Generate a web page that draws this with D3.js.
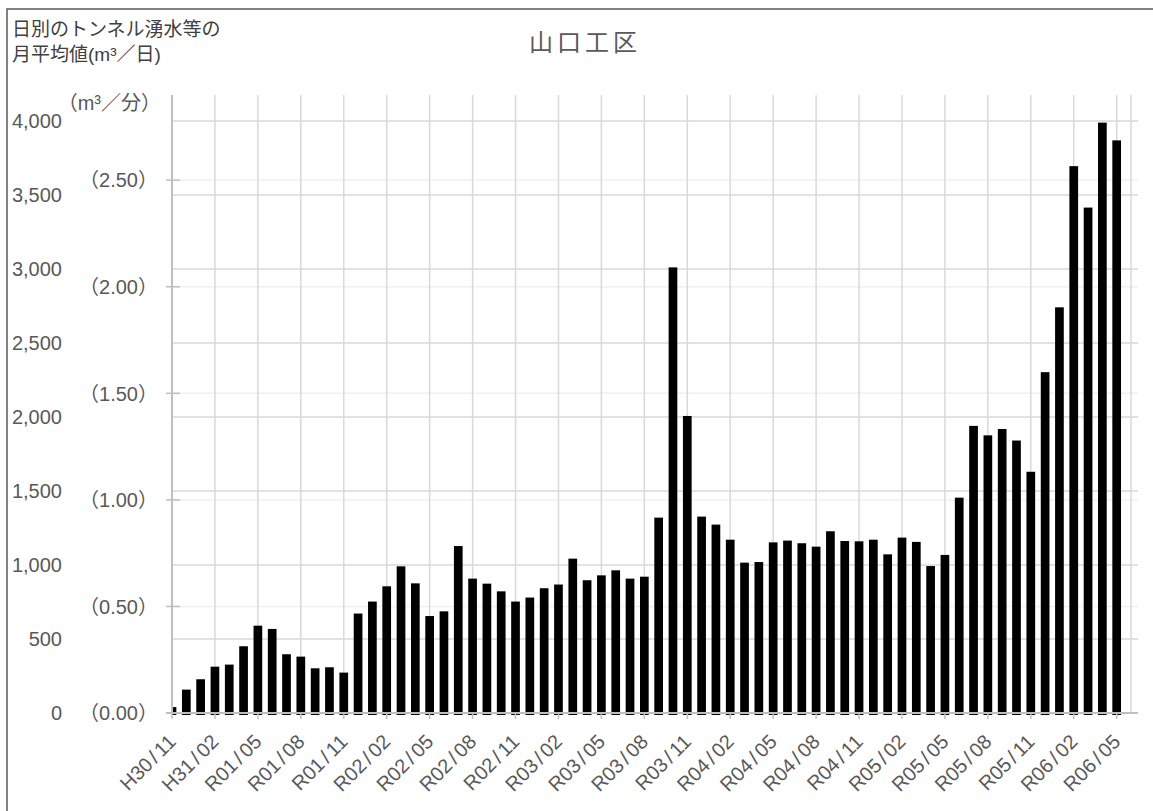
<!DOCTYPE html>
<html>
<head>
<meta charset="utf-8">
<script src="https://cdn.jsdelivr.net/npm/d3@7"></script>
<style>
  body { margin: 0; background: #fff; }
  svg { display: block; }
  text { font-family: "Liberation Sans", "Noto Sans CJK JP", sans-serif; }
</style>
</head>
<body>
<svg width="1153" height="811"></svg>
<script>
// months H30/11 .. R06/05
const months = [
  "H30/11", "H30/12", "H31/01", "H31/02", "H31/03", "H31/04",
  "R01/05", "R01/06", "R01/07", "R01/08", "R01/09", "R01/10", "R01/11", "R01/12",
  "R02/01", "R02/02", "R02/03", "R02/04", "R02/05", "R02/06", "R02/07", "R02/08", "R02/09", "R02/10", "R02/11", "R02/12",
  "R03/01", "R03/02", "R03/03", "R03/04", "R03/05", "R03/06", "R03/07", "R03/08", "R03/09", "R03/10", "R03/11", "R03/12",
  "R04/01", "R04/02", "R04/03", "R04/04", "R04/05", "R04/06", "R04/07", "R04/08", "R04/09", "R04/10", "R04/11", "R04/12",
  "R05/01", "R05/02", "R05/03", "R05/04", "R05/05", "R05/06", "R05/07", "R05/08", "R05/09", "R05/10", "R05/11", "R05/12",
  "R06/01", "R06/02", "R06/03", "R06/04", "R06/05"
];
// daily inflow, monthly mean (m3/day)
const inflow = [
  40, 158, 228, 313, 327, 451,
  590, 568, 397, 381, 302, 309, 273, 672,
  753, 856, 991, 876, 655, 687, 1128, 908, 874, 822, 753, 780,
  843, 868, 1043, 897, 930, 964, 908, 921, 1320, 3011, 2007, 1327,
  1273, 1171, 1016, 1020, 1153, 1165, 1147, 1124, 1228, 1162, 1160, 1171,
  1072, 1185, 1156, 993, 1068, 1455, 1940, 1876, 1919, 1841, 1630, 2303,
  2741, 3695, 3415, 3989, 3869
];
const tickMonths = ["H30/11", "H31/02", "R01/05", "R01/08", "R01/11", "R02/02", "R02/05", "R02/08",
  "R02/11", "R03/02", "R03/05", "R03/08", "R03/11", "R04/02", "R04/05", "R04/08", "R04/11",
  "R05/02", "R05/05", "R05/08", "R05/11", "R06/02", "R06/05"];
const dayTicks = [0, 500, 1000, 1500, 2000, 2500, 3000, 3500, 4000];
const minTicks = [0, 0.5, 1.0, 1.5, 2.0, 2.5];

const svg = d3.select("svg");
const plotL = 172, plotR = 1131, plotT = 95, plotB = 713;

const x = d3.scaleLinear().domain([0, months.length]).range([plotL, plotR]);
const y = d3.scaleLinear().domain([0, 4000]).range([plotB, 121]);
const y2 = d3.scaleLinear().domain([0, 4000 / 1440]).range([plotB, 121]);
const barW = 8.7;

// frame
svg.append("rect")
  .attr("x", 7).attr("y", 9).attr("width", 1200).attr("height", 900)
  .attr("fill", "none").attr("stroke", "#595959").attr("stroke-width", 1.5);

// secondary gridlines (faint)
svg.append("g").selectAll("line").data(minTicks.slice(1)).enter().append("line")
  .attr("x1", plotL).attr("x2", 1138)
  .attr("y1", d => y2(d)).attr("y2", d => y2(d))
  .attr("stroke", "#f0f0f0").attr("stroke-width", 1.5);

// primary gridlines
svg.append("g").selectAll("line").data(dayTicks.slice(1)).enter().append("line")
  .attr("x1", plotL).attr("x2", 1138)
  .attr("y1", d => y(d)).attr("y2", d => y(d))
  .attr("stroke", "#d9d9d9").attr("stroke-width", 1.5);

// vertical gridlines
svg.append("g").selectAll("line").data(tickMonths.slice(1)).enter().append("line")
  .attr("x1", d => x(months.indexOf(d))).attr("x2", d => x(months.indexOf(d)))
  .attr("y1", plotT).attr("y2", plotB)
  .attr("stroke", "#d9d9d9").attr("stroke-width", 1.5);
svg.append("line")
  .attr("x1", plotR).attr("x2", plotR).attr("y1", plotT).attr("y2", plotB)
  .attr("stroke", "#d9d9d9").attr("stroke-width", 1.5);

// bars
svg.append("defs").append("clipPath").attr("id", "plot")
  .append("rect").attr("x", plotL).attr("y", 0).attr("width", plotR - plotL).attr("height", plotB + 3);
svg.append("g").attr("clip-path", "url(#plot)")
  .selectAll("rect").data(inflow).enter().append("rect")
  .attr("x", (d, i) => x(i) - barW / 2)
  .attr("y", d => y(d))
  .attr("width", barW)
  .attr("height", d => y(0) - y(d) + 2)
  .attr("fill", "#000");

// axes lines
svg.append("line").attr("x1", plotL).attr("x2", plotL).attr("y1", plotT).attr("y2", plotB)
  .attr("stroke", "#bfbfbf").attr("stroke-width", 2);
svg.append("line").attr("x1", 166).attr("x2", 1138).attr("y1", plotB).attr("y2", plotB)
  .attr("stroke", "#bfbfbf").attr("stroke-width", 2);

// x ticks
svg.append("g").selectAll("line").data(tickMonths).enter().append("line")
  .attr("x1", d => x(months.indexOf(d))).attr("x2", d => x(months.indexOf(d)))
  .attr("y1", plotB).attr("y2", plotB + 6)
  .attr("stroke", "#bfbfbf").attr("stroke-width", 1.5);

// secondary tick marks
svg.append("g").selectAll("line").data(minTicks).enter().append("line")
  .attr("x1", 166).attr("x2", 180)
  .attr("y1", d => y2(d)).attr("y2", d => y2(d))
  .attr("stroke", "#bfbfbf").attr("stroke-width", 1.5);

// x labels, rotated -45deg
const xt = svg.append("g").selectAll("text").data(tickMonths).enter().append("text")
  .attr("transform", d => `translate(${x(months.indexOf(d)) + 5},743) rotate(-45)`)
  .attr("text-anchor", "end")
  .attr("font-size", 20)
  .attr("fill", "#595959");
xt.append("tspan").text(d => d.split("/")[0]);
xt.append("tspan").attr("dx", 3).text("/");
xt.append("tspan").attr("dx", 3).text(d => d.split("/")[1]);

// primary y labels
const fmt = d3.format(",");
svg.append("g").selectAll("text").data(dayTicks).enter().append("text")
  .attr("x", 62).attr("y", d => y(d))
  .attr("dy", "0.36em")
  .attr("text-anchor", "end")
  .attr("font-size", 20)
  .attr("fill", "#595959")
  .text(d => fmt(d));

// secondary y labels
svg.append("g").selectAll("text").data(minTicks).enter().append("text")
  .attr("x", 158).attr("y", d => y2(d))
  .attr("dy", "0.36em")
  .attr("text-anchor", "end")
  .attr("font-size", 20)
  .attr("fill", "#595959")
  .text(d => "（" + d3.format(".2f")(d) + "）");

svg.append("text")
  .attr("x", 161).attr("y", 110)
  .attr("text-anchor", "end")
  .attr("font-size", 20)
  .attr("fill", "#595959")
  .text("（m³／分）");

// titles
svg.append("text")
  .attr("x", 585).attr("y", 51)
  .attr("text-anchor", "middle")
  .attr("font-size", 24)
  .attr("letter-spacing", 4)
  .attr("fill", "#595959")
  .text("山口工区");

svg.append("text")
  .attr("x", 12).attr("y", 36)
  .attr("font-size", 19)
  .attr("fill", "#404040")
  .text("日別のトンネル湧水等の");
svg.append("text")
  .attr("x", 12).attr("y", 61)
  .attr("font-size", 19)
  .attr("fill", "#404040")
  .text("月平均値(m³／日)");
</script>
</body>
</html>
